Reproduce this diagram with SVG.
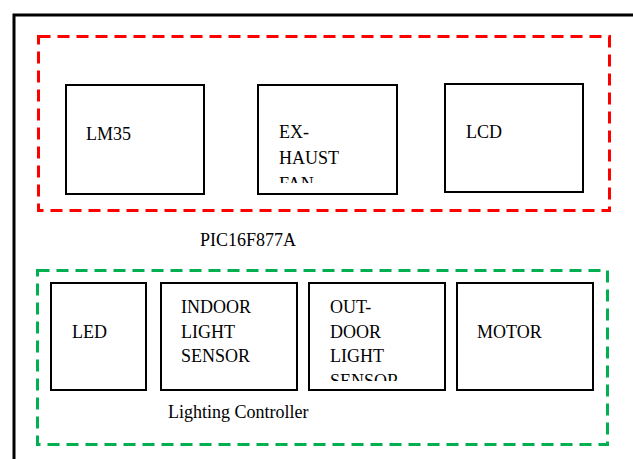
<svg xmlns="http://www.w3.org/2000/svg" width="633" height="459" viewBox="0 0 633 459">
<style>
.box{fill:#fff;stroke:#000;stroke-width:2}
.t{font-family:'Liberation Serif','DejaVu Serif',serif;font-size:18px;fill:#000}
.grp{fill:none;stroke-width:3;stroke-dasharray:12 7}
</style>
<defs>
<clipPath id="c1"><rect x="258" y="85" width="139" height="98"/></clipPath>
<clipPath id="c2"><rect x="309" y="283" width="136" height="98"/></clipPath>
</defs>
<rect x="0" y="0" width="633" height="459" fill="#fff"/>
<rect id="outer" x="14" y="15" width="640" height="460" fill="none" stroke="#000" stroke-width="3"/>
<g id="pic">
<rect class="grp" x="38.5" y="36.5" width="571" height="174" stroke="#ff0000"/>
<text class="t" x="200" y="246">PIC16F877A</text>
</g>
<g id="lm35"><rect class="box" x="66" y="85" width="138" height="109"/><text class="t" x="86" y="140">LM35</text></g>
<g id="fan"><rect class="box" x="258" y="85" width="139" height="109"/>
<g clip-path="url(#c1)"><text class="t" x="279" y="138">EX-</text><text class="t" x="279" y="164">HAUST</text><text class="t" x="279" y="190">FAN</text></g></g>
<g id="lcd"><rect class="box" x="445" y="84" width="138" height="108"/><text class="t" x="466" y="138">LCD</text></g>
<g id="lighting">
<rect class="grp" x="37.5" y="270.5" width="570" height="174" stroke="#00b050"/>
<text class="t" x="168" y="418">Lighting Controller</text>
</g>
<g id="led"><rect class="box" x="51" y="283" width="95" height="107"/><text class="t" x="72" y="338">LED</text></g>
<g id="indoor"><rect class="box" x="161" y="283" width="136" height="107"/><text class="t" x="181" y="313">INDOOR</text><text class="t" x="181" y="338">LIGHT</text><text class="t" x="181" y="362">SENSOR</text></g>
<g id="outdoor"><rect class="box" x="309" y="283" width="136" height="107"/>
<g clip-path="url(#c2)"><text class="t" x="330" y="313">OUT-</text><text class="t" x="330" y="338">DOOR</text><text class="t" x="330" y="362">LIGHT</text><text class="t" x="330" y="387">SENSOR</text></g></g>
<g id="motor"><rect class="box" x="457" y="283" width="136" height="107"/><text class="t" x="477" y="338">MOTOR</text></g>
<g id="connectors"/>
</svg>
